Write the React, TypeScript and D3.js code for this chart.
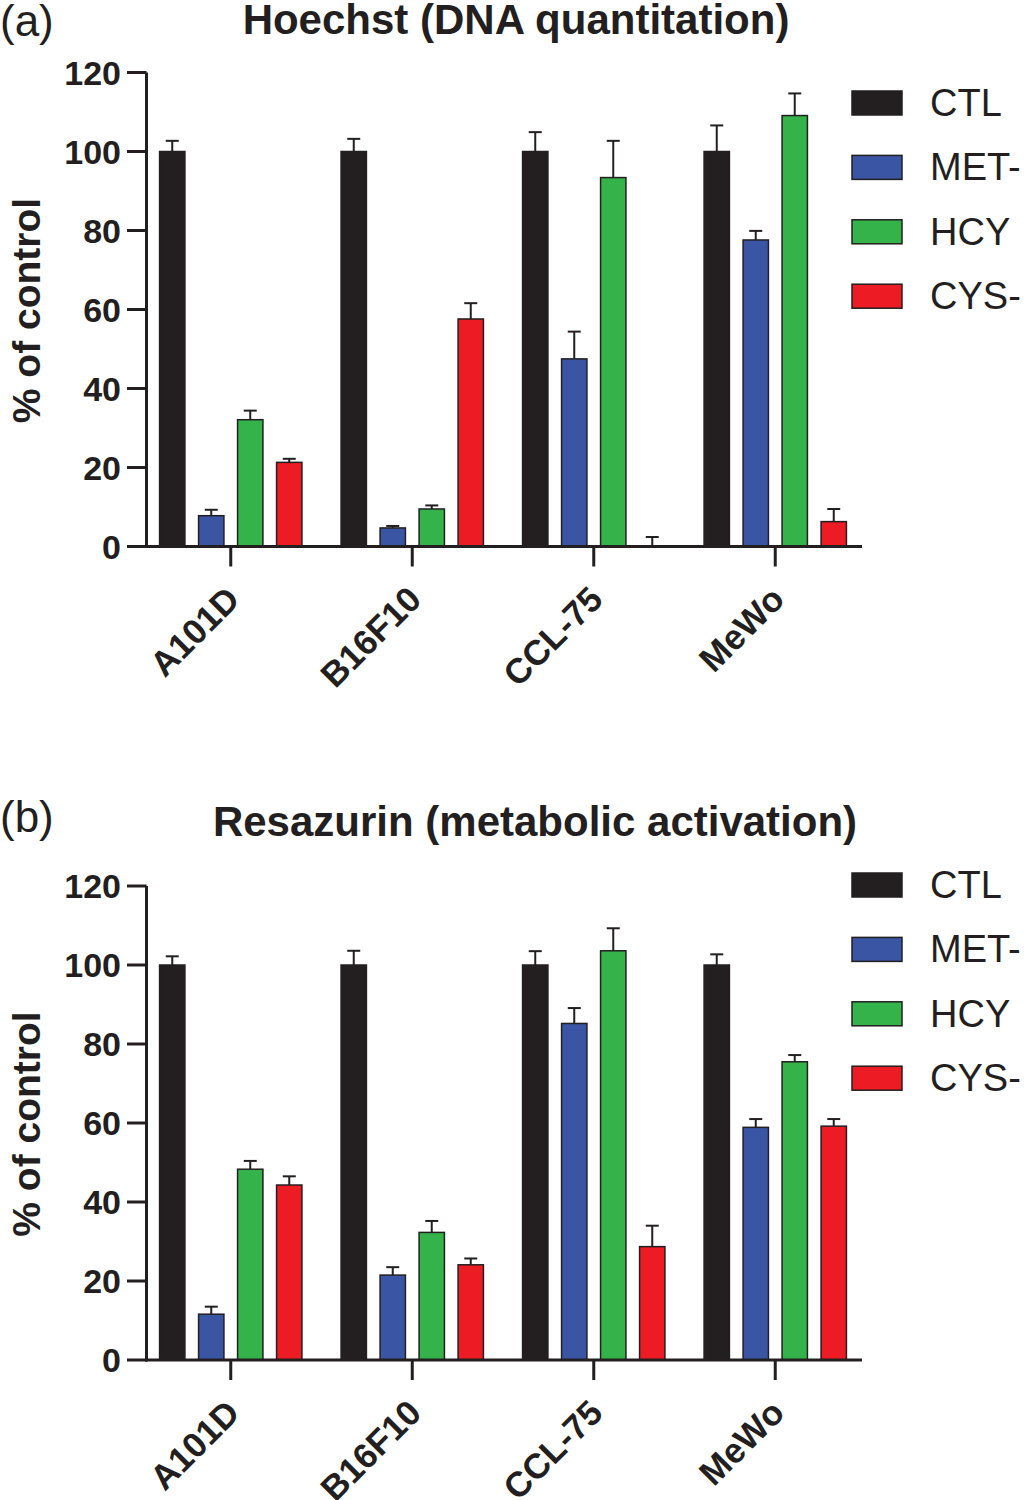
import React from "react";
import * as d3 from "d3";

const categories = ["A101D", "B16F10", "CCL-75", "MeWo"];
const seriesNames = ["CTL", "MET-", "HCY", "CYS-"];
const seriesColors = ["#231f20", "#3a55a4", "#33b34a", "#ed1c24"];
const yTicks = [0, 20, 40, 60, 80, 100, 120];

const hoechstCTL = [100, 100, 100, 100];
const hoechstMET = [7.8, 4.7, 47.5, 77.6];
const hoechstHCY = [32.1, 9.5, 93.4, 109.1];
const hoechstCYS = [21.3, 57.6, 0, 6.3];
const hoechstErrCTL = [2.7, 3.2, 4.9, 6.6];
const hoechstErrMET = [1.5, 0.5, 6.9, 2.3];
const hoechstErrHCY = [2.3, 0.9, 9.3, 5.6];
const hoechstErrCYS = [0.9, 4.0, 2.4, 3.2];

const resaCTL = [100, 100, 100, 100];
const resaMET = [11.6, 21.5, 85.2, 58.9];
const resaHCY = [48.3, 32.3, 103.6, 75.5];
const resaCYS = [44.3, 24.1, 28.7, 59.2];
const resaErrCTL = [2.2, 3.6, 3.5, 2.7];
const resaErrMET = [1.9, 2.0, 3.9, 2.1];
const resaErrHCY = [2.1, 2.9, 5.7, 1.7];
const resaErrCYS = [2.2, 1.6, 5.3, 1.8];

const FONT = "'Liberation Sans', Arial, Helvetica, sans-serif";
const INK = "#231f20";

type PanelProps = {
  letter: string;
  title: string;
  values: number[][];
  errors: number[][];
  top: number;
  bottom: number;
  letterY: number;
  titleY: number;
  titleX: number;
  legendY: number;
};

function Panel(p: PanelProps) {
  const y = d3.scaleLinear().domain([0, 120]).range([p.bottom, p.top]);
  const x0 = d3.scaleBand<string>().domain(categories).range([140, 866]).padding(0);
  const x1 = d3
    .scaleBand<string>()
    .domain(seriesNames)
    .range([-78, 78])
    .paddingInner(0.35)
    .paddingOuter(0.175);
  const axisX = 146.5;
  const axisEnd = 862;
  const bw = x1.bandwidth();
  return (
    <g>
      <text x={0} y={p.letterY} fontFamily={FONT} fontSize={44} fill={INK}>
        {p.letter}
      </text>
      <text
        x={p.titleX}
        y={p.titleY}
        fontFamily={FONT}
        fontSize={42}
        fontWeight="bold"
        textAnchor="middle"
        fill={INK}
      >
        {p.title}
      </text>
      <text
        transform={`translate(40,${(p.top + p.bottom) / 2 + 1}) rotate(-90)`}
        fontFamily={FONT}
        fontSize={39}
        fontWeight="bold"
        textAnchor="middle"
        fill={INK}
      >
        % of control
      </text>
      {categories.map((c, ci) => (
        <g key={c} transform={`translate(${x0(c)! + x0.bandwidth() / 2},0)`}>
          {seriesNames.map((s, si) => {
            const v = p.values[si][ci];
            const e = p.errors[si][ci];
            const bx = x1(s)!;
            const cx = bx + bw / 2;
            return (
              <g key={s}>
                <line x1={cx} x2={cx} y1={y(v)} y2={y(v + e)} stroke={INK} strokeWidth={2} />
                <line
                  x1={cx - 6.5}
                  x2={cx + 6.5}
                  y1={y(v + e)}
                  y2={y(v + e)}
                  stroke={INK}
                  strokeWidth={2}
                />
                {v > 0 && (
                  <rect
                    x={bx}
                    y={y(v)}
                    width={bw}
                    height={y(0) - y(v)}
                    fill={seriesColors[si]}
                    stroke={INK}
                    strokeWidth={1.5}
                  />
                )}
              </g>
            );
          })}
        </g>
      ))}
      <line x1={axisX} x2={axisX} y1={y(120)} y2={y(0) + 1.5} stroke={INK} strokeWidth={3} />
      {yTicks.map((t) => (
        <g key={t}>
          <line x1={127} x2={axisX} y1={y(t)} y2={y(t)} stroke={INK} strokeWidth={3} />
          <text
            x={121}
            y={y(t) + 12}
            fontFamily={FONT}
            fontSize={34}
            fontWeight="bold"
            textAnchor="end"
            fill={INK}
          >
            {t}
          </text>
        </g>
      ))}
      <line x1={axisX - 1.5} x2={axisEnd} y1={y(0)} y2={y(0)} stroke={INK} strokeWidth={3} />
      {categories.map((c) => {
        const cx = x0(c)! + x0.bandwidth() / 2;
        return (
          <g key={c}>
            <line x1={cx} x2={cx} y1={y(0)} y2={y(0) + 20} stroke={INK} strokeWidth={3} />
            <text
              transform={`translate(${cx + 11},${y(0) + 55}) rotate(-45)`}
              fontFamily={FONT}
              fontSize={35}
              fontWeight="bold"
              textAnchor="end"
              fill={INK}
            >
              {c}
            </text>
          </g>
        );
      })}
      {seriesNames.map((s, si) => {
        const cy = p.legendY + si * 64.4;
        return (
          <g key={s}>
            <rect
              x={852}
              y={cy - 12}
              width={50}
              height={24}
              fill={seriesColors[si]}
              stroke={INK}
              strokeWidth={1.5}
            />
            <text x={930} y={cy + 13} fontFamily={FONT} fontSize={38} fill={INK}>
              {s}
            </text>
          </g>
        );
      })}
    </g>
  );
}

export default function App() {
  return (
    <svg
      width={1024}
      height={1500}
      style={{ position: "absolute", left: 0, top: 0, background: "#fff" }}
    >
      <rect x={0} y={0} width={1024} height={1500} fill="#fff" />
      <Panel
        letter="(a)"
        title="Hoechst (DNA quantitation)"
        values={[hoechstCTL, hoechstMET, hoechstHCY, hoechstCYS]}
        errors={[hoechstErrCTL, hoechstErrMET, hoechstErrHCY, hoechstErrCYS]}
        top={72.5}
        bottom={546.5}
        letterY={36}
        titleY={34}
        titleX={516}
        legendY={103}
      />
      <Panel
        letter="(b)"
        title="Resazurin (metabolic activation)"
        values={[resaCTL, resaMET, resaHCY, resaCYS]}
        errors={[resaErrCTL, resaErrMET, resaErrHCY, resaErrCYS]}
        top={886}
        bottom={1360}
        letterY={832}
        titleY={836}
        titleX={535}
        legendY={885}
      />
    </svg>
  );
}
